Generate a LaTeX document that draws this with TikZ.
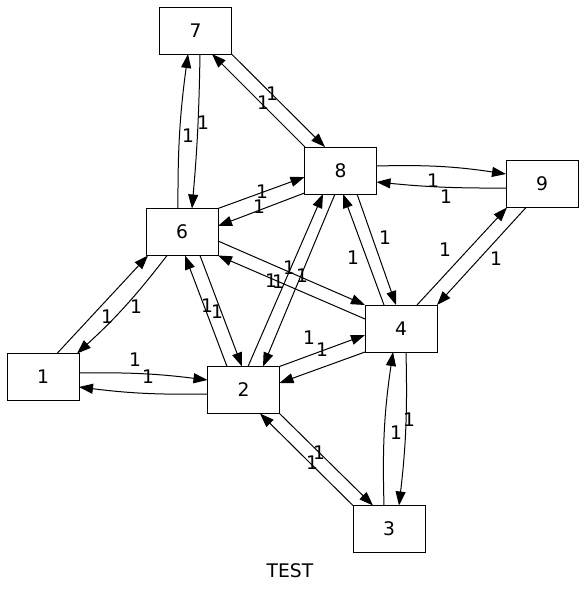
\documentclass[tikz,border=0pt]{standalone}
\usepackage{fontspec}
\setmainfont{DejaVu Sans}
\usetikzlibrary{arrows.meta}
\begin{document}
\begin{tikzpicture}[x=1pt,y=1pt,
  box/.style={draw,line width=1pt,minimum width=72pt,minimum height=47pt,inner sep=0pt,font=\fontsize{18.7}{20}\selectfont},
  e/.style={line width=1pt,-{Triangle[length=14pt,width=10pt]}},
  lab/.style={inner sep=0pt,font=\fontsize{18.7}{20}\selectfont}]
\useasboundingbox (0,0) rectangle (584,-595);
\node[box] (n7) at (195.5,-30.5) {7};
\node[box] (n8) at (340.5,-170.5) {8};
\node[box] (n6) at (182,-232) {6};
\node[box] (n9) at (542,-184) {9};
\node[box] (n4) at (401,-328.5) {4};
\node[box] (n1) at (43,-377) {1};
\node[box] (n2) at (243.5,-390) {2};
\node[box] (n3) at (389,-529) {3};
\node[lab] (title) at (290,-571) {TEST};
% edges
\draw[e] ([shift={(-4,23.5)}]n6.center) to[bend left=4] ([shift={(-7.5,-23.5)}]n7.center);
\draw[e] ([shift={(4.5,-23.5)}]n7.center) to[bend left=2] ([shift={(10,23.5)}]n6.center);
\draw[e] ([shift={(36,-23.5)}]n7.center) -- ([shift={(-15.5,23.5)}]n8.center);
\draw[e] ([shift={(-35.5,23.5)}]n8.center) -- ([shift={(16.5,-23.5)}]n7.center);
\draw[e] ([shift={(36,23.5)}]n6.center) -- ([shift={(-36,-6.5)}]n8.center);
\draw[e] ([shift={(-36,-22.5)}]n8.center) -- ([shift={(36,6)}]n6.center);
\draw[e] ([shift={(36,4.5)}]n8.center) to[bend left=5] ([shift={(-36,10)}]n9.center);
\draw[e] ([shift={(-36,-4)}]n9.center) to[bend left=3] ([shift={(36,-11.5)}]n8.center);
\draw[e] ([shift={(-16,-23.5)}]n9.center) -- ([shift={(36,23.5)}]n4.center);
\draw[e] ([shift={(16,23.5)}]n4.center) -- ([shift={(-35,-23.5)}]n9.center);
\draw[e] ([shift={(16.5,-23.5)}]n8.center) -- ([shift={(-5,23.5)}]n4.center);
\draw[e] ([shift={(-17,23.5)}]n4.center) -- ([shift={(2.5,-23.5)}]n8.center);
\draw[e] ([shift={(36,-9)}]n6.center) -- ([shift={(-36,23.5)}]n4.center);
\draw[e] ([shift={(-36,9.5)}]n4.center) -- ([shift={(36,-23.5)}]n6.center);
\draw[e] ([shift={(4.5,23.5)}]n2.center) -- ([shift={(-17.5,-23.5)}]n8.center);
\draw[e] ([shift={(-5.5,-23.5)}]n8.center) -- ([shift={(19.5,23.5)}]n2.center);
\draw[e] ([shift={(-16.5,23.5)}]n2.center) -- ([shift={(3,-23.5)}]n6.center);
\draw[e] ([shift={(18,-23.5)}]n6.center) -- ([shift={(-1.5,23.5)}]n2.center);
\draw[e] ([shift={(-15,-23.5)}]n6.center) to[bend left=5] ([shift={(34,23.5)}]n1.center);
\draw[e] ([shift={(14,23.5)}]n1.center) -- ([shift={(-34,-23.5)}]n6.center);
\draw[e] ([shift={(36,4)}]n1.center) to[bend left=4] ([shift={(-36,10)}]n2.center);
\draw[e] ([shift={(-36,-4)}]n2.center) to[bend left=4] ([shift={(36,-10)}]n1.center);
\draw[e] ([shift={(36,23.5)}]n2.center) -- ([shift={(-36,-6.5)}]n4.center);
\draw[e] ([shift={(-36,-23.5)}]n4.center) -- ([shift={(36,7)}]n2.center);
\draw[e] ([shift={(36,-23.5)}]n2.center) -- ([shift={(-16,23.5)}]n3.center);
\draw[e] ([shift={(-36,23.5)}]n3.center) -- ([shift={(16.5,-23.5)}]n2.center);
\draw[e] ([shift={(-5,23.5)}]n3.center) to[bend left=5] ([shift={(-8,-23.5)}]n4.center);
\draw[e] ([shift={(5,-23.5)}]n4.center) to[bend left=4] ([shift={(10,23.5)}]n3.center);
% labels
\node[lab] (l1) at (188,-136) {1};
\node[lab] (l2) at (203,-123) {1};
\node[lab] (l3) at (272,-94) {1};
\node[lab] (l4) at (263,-103) {1};
\node[lab] (l5) at (262,-192) {1};
\node[lab] (l6) at (259,-207) {1};
\node[lab] (l7) at (433,-181) {1};
\node[lab] (l8) at (446,-197) {1};
\node[lab] (l9) at (496,-259) {1};
\node[lab] (l10) at (445,-250) {1};
\node[lab] (l11) at (385,-238) {1};
\node[lab] (l12) at (353,-258) {1};
\node[lab] (l13) at (289,-268) {1};
\node[lab] (l14) at (302,-276) {1};
\node[lab] (l15) at (271,-281) {1};
\node[lab] (l16) at (278,-282) {1};
\node[lab] (l17) at (207,-306) {1};
\node[lab] (l18) at (217,-312) {1};
\node[lab] (l19) at (136,-307) {1};
\node[lab] (l20) at (107,-317) {1};
\node[lab] (l21) at (135,-360) {1};
\node[lab] (l22) at (148,-377) {1};
\node[lab] (l23) at (309,-338) {1};
\node[lab] (l24) at (322,-350) {1};
\node[lab] (l25) at (319,-453) {1};
\node[lab] (l26) at (312,-463) {1};
\node[lab] (l27) at (396,-433) {1};
\node[lab] (l28) at (409,-420) {1};
\end{tikzpicture}
\end{document}
